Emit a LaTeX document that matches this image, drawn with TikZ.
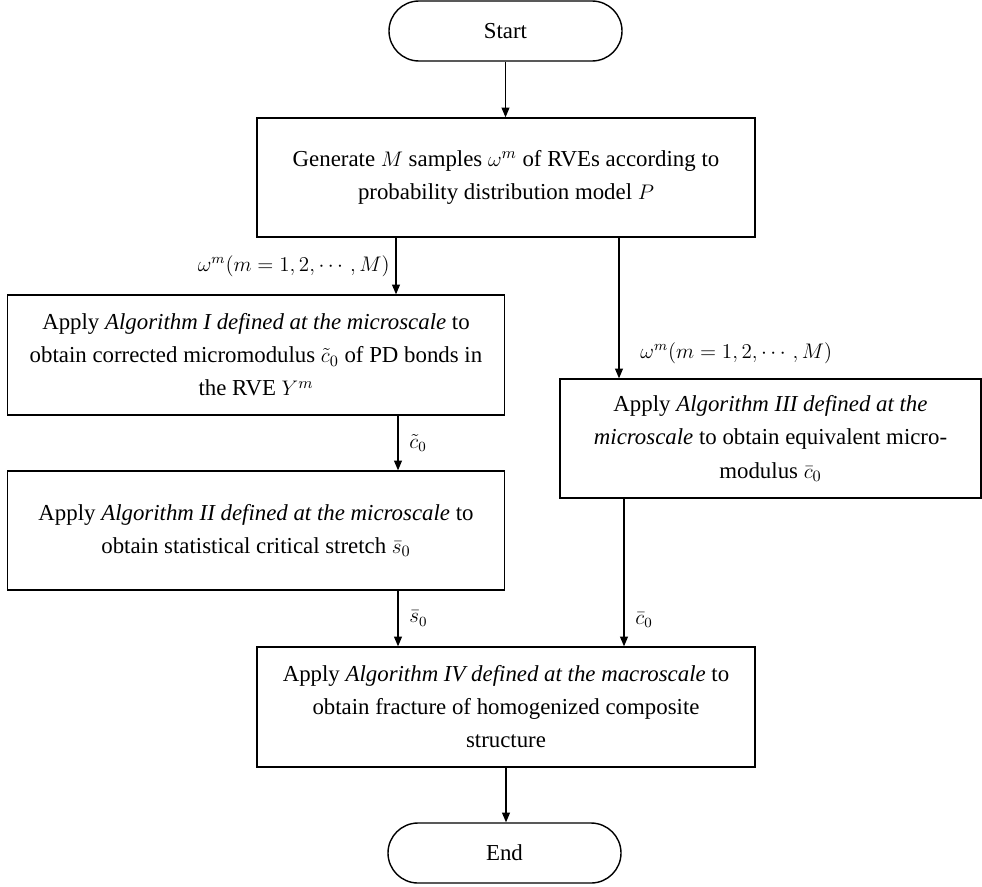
\documentclass[tikz,border=0pt]{standalone}
\usepackage{amsmath,amssymb}
\usepackage{fontspec}
\setmainfont{Liberation Serif}
\usetikzlibrary{arrows.meta}

\begin{document}
\begin{tikzpicture}[
  box/.style={draw, line width=0.8pt, align=center, inner sep=0pt, font=\fontsize{13}{18.8}\selectfont},
  term/.style={box, rounded corners=0.6cm, minimum width=4.66cm, minimum height=1.2cm},
  arr/.style={-{Triangle[length=5.5pt,width=4.5pt]}, line width=0.6pt},
  lab/.style={font=\fontsize{12}{14}\selectfont}
]
\useasboundingbox (0,0) rectangle (19.64,-17.72);

% terminals
\node[term] (start) at (10.11,-0.62) {Start};
\node[term] (end) at (10.09,-17.06) {End};

% process boxes
\node[box, minimum width=9.96cm, minimum height=2.38cm] (gen) at (10.12,-3.55)
  {Generate $M$ samples $\omega^m$ of RVEs according to\\ probability distribution model $P$};
\node[box, minimum width=9.95cm, minimum height=2.4cm] (algI) at (5.12,-7.10)
  {Apply \textit{Algorithm I defined at the microscale} to\\ obtain corrected micromodulus $\tilde{c}_0$ of PD bonds in\\ the RVE $Y^m$};
\node[box, minimum width=9.95cm, minimum height=2.38cm] (algII) at (5.12,-10.61)
  {Apply \textit{Algorithm II defined at the microscale} to\\ obtain statistical critical stretch $\bar{s}_0$};
\node[box, minimum width=8.42cm, minimum height=2.38cm] (algIII) at (15.41,-8.77)
  {Apply \textit{Algorithm III defined at the}\\ \textit{microscale} to obtain equivalent micro-\\ modulus $\bar{c}_0$};
\node[box, minimum width=9.96cm, minimum height=2.4cm] (algIV) at (10.12,-14.14)
  {Apply \textit{Algorithm IV defined at the macroscale} to\\ obtain fracture of homogenized composite\\ structure};

% connectors
\draw[arr] (start.south) -- (start.south |- gen.north);
\draw[arr] ([xshift=-2.2cm]gen.south) coordinate (g1) -- (g1 |- algI.north)
  node[lab, midway, left] {$\omega^{m}(m=1,2,\cdots,M)$};
\draw[arr] ([xshift=2.26cm]gen.south) coordinate (g2) -- (g2 |- algIII.north)
  node[lab, pos=0.82, right, xshift=0.3cm] {$\omega^{m}(m=1,2,\cdots,M)$};
\draw[arr] ([xshift=2.84cm]algI.south) coordinate (a1) -- (a1 |- algII.north)
  node[lab, midway, right, xshift=0.1cm] {$\tilde{c}_0$};
\draw[arr] ([xshift=2.84cm]algII.south) coordinate (a2) -- (a2 |- algIV.north)
  node[lab, midway, right, xshift=0.1cm] {$\bar{s}_0$};
\draw[arr] ([xshift=-2.93cm]algIII.south) coordinate (a3) -- (a3 |- algIV.north)
  node[lab, pos=0.82, right, xshift=0.1cm] {$\bar{c}_0$};
\draw[arr] (algIV.south) -- (algIV.south |- end.north);
\end{tikzpicture}
\end{document}
